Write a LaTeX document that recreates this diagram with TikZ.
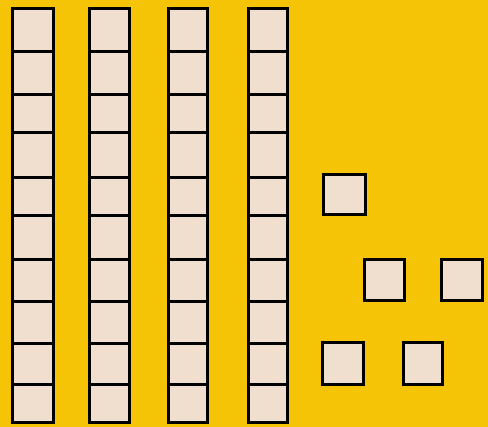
\documentclass[tikz,border=0pt]{standalone}
\definecolor{bgyellow}{HTML}{F6C406}
\definecolor{cube}{HTML}{F0DFCF}
\tikzset{
  unitsq/.style={fill=cube, draw=black, line width=3pt, line join=miter},
}
\begin{document}
\begin{tikzpicture}[x=1pt,y=-1pt]
\fill[bgyellow] (0,0) rectangle (488,427);
\useasboundingbox (0,0) rectangle (488,427);
% tens rods
\foreach \l/\r in {12/53, 89/129, 168/207, 248/287}{
  \foreach \t/\b in {9/52, 52/95, 95/133, 133/178, 178/216, 216/260, 260/302, 302/344, 344/385, 385/423}{
    \draw[unitsq] (\l,\t) rectangle (\r,\b);
  }
}
% ones
\draw[unitsq] (323,175) rectangle (365,215);
\draw[unitsq] (364,260) rectangle (404,301);
\draw[unitsq] (441,260) rectangle (482,301);
\draw[unitsq] (322,343) rectangle (363,385);
\draw[unitsq] (403,343) rectangle (442,385);
\end{tikzpicture}
\end{document}
